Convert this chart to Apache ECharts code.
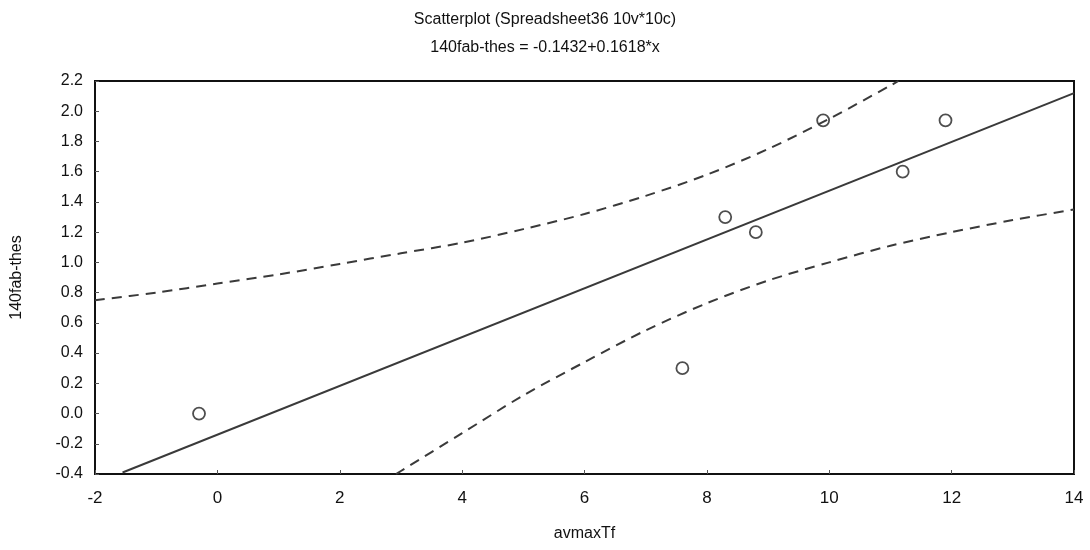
<!DOCTYPE html>
<html>
<head>
<meta charset="utf-8">
<script src="https://cdn.jsdelivr.net/npm/echarts@6/dist/echarts.min.js"></script>
<style>html,body{margin:0;padding:0;background:#fff;}#c{width:1090px;height:550px;}</style>
</head>
<body>
<div id="c"></div>
<script>
const titleText = 'Scatterplot (Spreadsheet36 10v*10c)';
const subText = '140fab-thes = -0.1432+0.1618*x';
const xName = 'avmaxTf';
const yName = '140fab-thes';
const xTicks = [-2, 0, 2, 4, 6, 8, 10, 12, 14];
const yTicks = [-0.4, -0.2, 0.0, 0.2, 0.4, 0.6, 0.8, 1.0, 1.2, 1.4, 1.6, 1.8, 2.0, 2.2];
const pointsX = [-0.3, 7.6, 8.3, 8.8, 9.9, 11.2, 11.9];
const pointsY = [0.0, 0.3, 1.3, 1.2, 1.94, 1.6, 1.94];
const fitX = [-1.55, 14];
const fitY = [-0.39, 2.12];
const upperX = [-2, -1, 0, 1, 2, 3, 4, 5, 6, 7, 8, 9, 10, 11, 11.13];
const upperY = [0.75, 0.80, 0.86, 0.92, 0.99, 1.06, 1.13, 1.22, 1.32, 1.44, 1.58, 1.75, 1.95, 2.17, 2.2];
const lowerX = [2.92, 3, 4, 5, 6, 7, 8, 9, 10, 11, 12, 13, 14];
const lowerY = [-0.4, -0.38, -0.13, 0.12, 0.34, 0.55, 0.73, 0.88, 1.0, 1.11, 1.2, 1.28, 1.35];

const zip = (a, b) => a.map((v, i) => [v, b[i]]);
const chart = echarts.init(document.getElementById('c'), null, {renderer: 'canvas'});
const font = 'Liberation Sans, Arial, sans-serif';
const lineCol = '#3a3a3a';
chart.setOption({
  animation: false,
  backgroundColor: '#fff',
  title: [
    {text: titleText, left: 'center', top: 7, textStyle: {fontFamily: font, fontSize: 16, fontWeight: 'normal', color: '#111'}},
    {text: subText, left: 'center', top: 35, textStyle: {fontFamily: font, fontSize: 16, fontWeight: 'normal', color: '#111'}}
  ],
  grid: {left: 95, right: 16, top: 81, bottom: 76, show: true, borderColor: '#111', borderWidth: 2, backgroundColor: 'transparent'},
  xAxis: {
    type: 'value', min: -2, max: 14, interval: 2,
    name: xName, nameLocation: 'middle', nameGap: 52,
    nameTextStyle: {fontFamily: font, fontSize: 16, color: '#111'},
    axisLine: {show: true, onZero: false, lineStyle: {color: '#111', width: 2}},
    axisTick: {show: true, inside: true, length: 4, lineStyle: {color: '#555'}},
    axisLabel: {fontFamily: font, fontSize: 17, color: '#111', margin: 16,
      formatter: v => xTicks.includes(v) ? String(v) : ''},
    splitLine: {show: false}
  },
  yAxis: {
    type: 'value', min: -0.4, max: 2.2, interval: 0.2,
    name: yName, nameLocation: 'middle', nameGap: 70, nameRotate: 90,
    nameTextStyle: {fontFamily: font, fontSize: 16, color: '#111'},
    axisLine: {show: true, onZero: false, lineStyle: {color: '#111', width: 2}},
    axisTick: {show: true, inside: true, length: 4, lineStyle: {color: '#555'}},
    axisLabel: {fontFamily: font, fontSize: 16, color: '#111', margin: 12,
      formatter: v => { const t = yTicks.find(u => Math.abs(u - v) < 1e-6); return t === undefined ? '' : t.toFixed(1); }},
    splitLine: {show: false}
  },
  series: [
    {type: 'line', data: zip(upperX, upperY), symbol: 'none', smooth: 0.3, clip: true,
      lineStyle: {color: lineCol, width: 2, type: [10, 7]}},
    {type: 'line', data: zip(lowerX, lowerY), symbol: 'none', smooth: 0.3, clip: true,
      lineStyle: {color: lineCol, width: 2, type: [10, 7]}},
    {type: 'line', data: zip(fitX, fitY), symbol: 'none', clip: true,
      lineStyle: {color: lineCol, width: 2}},
    {type: 'scatter', data: zip(pointsX, pointsY), symbol: 'circle', symbolSize: 12,
      itemStyle: {color: '#fff', borderColor: '#222', borderWidth: 1.8}}
  ]
});
</script>
</body>
</html>
